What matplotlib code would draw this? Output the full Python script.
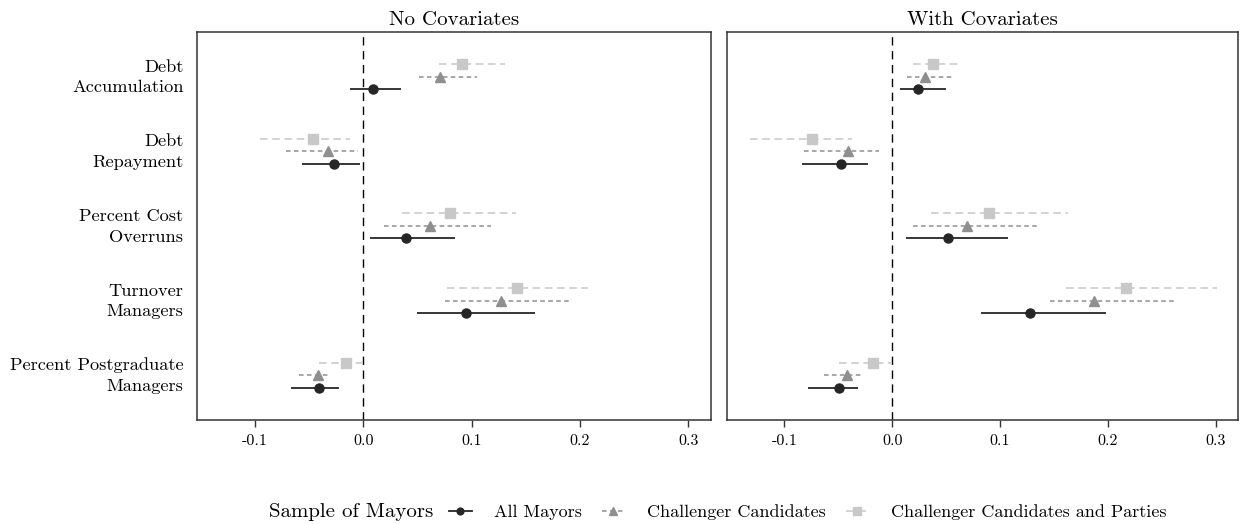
import matplotlib
matplotlib.use("Agg")
import matplotlib.pyplot as plt
import matplotlib.transforms as mtransforms
from matplotlib.lines import Line2D
import numpy as np

plt.rcParams["font.family"] = ["cmr10", "DejaVu Serif"]
plt.rcParams["axes.unicode_minus"] = False

outcomes = ["Debt\nAccumulation", "Debt\nRepayment", "Percent Cost\nOverruns",
            "Turnover\nManagers", "Percent Postgraduate\nManagers"]
panels = ["No Covariates", "With Covariates"]
samples = ["All Mayors", "Challenger Candidates", "Challenger Candidates and Parties"]

# Point estimates and 95% confidence bounds, one row per outcome
# --- No Covariates ---
nc_all_est = [0.0087, -0.0273, 0.0391, 0.0948, -0.0406]
nc_all_lo = [-0.012, -0.0569, 0.0065, 0.0498, -0.0667]
nc_all_hi = [0.035, -0.0034, 0.0843, 0.1582, -0.0224]

nc_cc_est = [0.0708, -0.0329, 0.0616, 0.1271, -0.0415]
nc_cc_lo = [0.0514, -0.0714, 0.0194, 0.0754, -0.0594]
nc_cc_hi = [0.1046, -0.0052, 0.1179, 0.1914, -0.0307]

nc_ccp_est = [0.0908, -0.0467, 0.0800, 0.1416, -0.0160]
nc_ccp_lo = [0.0702, -0.0954, 0.0354, 0.0776, -0.0406]
nc_ccp_hi = [0.1310, -0.0123, 0.1407, 0.2077, -0.0006]

# --- With Covariates ---
wc_all_est = [0.0241, -0.0479, 0.0520, 0.1274, -0.0497]
wc_all_lo = [0.0071, -0.0835, 0.0124, 0.0826, -0.0785]
wc_all_hi = [0.0495, -0.0229, 0.1070, 0.1982, -0.0321]

wc_cc_est = [0.0300, -0.0408, 0.0696, 0.1874, -0.0423]
wc_cc_lo = [0.0134, -0.0819, 0.0195, 0.1463, -0.0634]
wc_cc_hi = [0.0551, -0.0123, 0.1364, 0.2613, -0.0275]

wc_ccp_est = [0.0375, -0.0748, 0.0894, 0.2168, -0.0179]
wc_ccp_lo = [0.0195, -0.1320, 0.0356, 0.1611, -0.0492]
wc_ccp_hi = [0.0634, -0.0371, 0.1633, 0.3010, -0.0015]

x_ticks = [-0.1, 0.0, 0.1, 0.2, 0.3]
x_tick_labels = ["-0.1", "0.0", "0.1", "0.2", "0.3"]

panel_data = {
    "No Covariates": [(nc_all_est, nc_all_lo, nc_all_hi),
                      (nc_cc_est, nc_cc_lo, nc_cc_hi),
                      (nc_ccp_est, nc_ccp_lo, nc_ccp_hi)],
    "With Covariates": [(wc_all_est, wc_all_lo, wc_all_hi),
                        (wc_cc_est, wc_cc_lo, wc_cc_hi),
                        (wc_ccp_est, wc_ccp_lo, wc_ccp_hi)],
}

colors = ["#262626", "#8f8f8f", "#c8c8c8"]
markers = ["o", "^", "s"]
msizes = [6.5, 7.0, 7.0]
dash_styles = ["-", (0, (3.0, 2.2)), (0, (5.0, 3.0))]
line_widths = [1.3, 1.1, 1.1]
dodge = [-1 / 6, 0.0, 1 / 6]   # all-mayors lowest, parties highest

fig = plt.figure(figsize=(12.46, 5.24), dpi=100)
axes = [fig.add_axes([0.1584, 0.1985, 0.4123, 0.741]),
        fig.add_axes([0.5837, 0.1985, 0.4101, 0.741])]

n = len(outcomes)
ypos = np.arange(n, 0, -1, dtype=float)  # first outcome at the top

for ax, panel in zip(axes, panels):
    ax.axvline(0, color="black", lw=1.0, ls=(0, (6, 4)), zorder=1)
    for k, (est, lo, hi) in enumerate(panel_data[panel]):
        y = ypos + dodge[k]
        ax.hlines(y, lo, hi, colors=colors[k], linestyles=[dash_styles[k]],
                  lw=line_widths[k], zorder=2)
        ax.plot(est, y, ls="none", marker=markers[k], ms=msizes[k],
                color=colors[k], mec=colors[k], zorder=3)
    ax.set_xlim(-0.153, 0.321)
    ax.set_ylim(0.4, n + 0.6)
    ax.set_xticks(x_ticks)
    ax.set_xticklabels(x_tick_labels, fontsize=11.5)
    ax.tick_params(axis="x", length=5, width=1, color="#333333", pad=5)
    ax.set_yticks(ypos)
    ax.tick_params(axis="y", length=0, pad=10)
    for s in ax.spines.values():
        s.set_color("#333333")
        s.set_linewidth(1.1)
    ax.set_title(panel, fontsize=15, pad=5)

axes[0].set_yticklabels(outcomes, fontsize=13.2, ha="right", multialignment="right",
                        linespacing=1.45)
# nudge the two-line outcome labels up so they sit centred on their rows
lift = mtransforms.ScaledTranslation(0, 3.5 / 100, fig.dpi_scale_trans)
for lab in axes[0].get_yticklabels():
    lab.set_transform(lab.get_transform() + lift)
axes[1].set_yticklabels([])

handles = [Line2D([0], [0], color=colors[k], ls=dash_styles[k], lw=line_widths[k],
                  marker=markers[k], ms=msizes[k] * 0.75, mec=colors[k])
           for k in range(3)]
fig.text(269 / 1246, 0.023, "Sample of Mayors", fontsize=15, ha="left", va="center")
fig.legend(handles, samples, loc="center left", bbox_to_anchor=(449 / 1246, 0.023),
           ncol=3, frameon=False, fontsize=13, handlelength=1.25, handletextpad=1.25,
           columnspacing=1.1, borderaxespad=0, borderpad=0)

fig.savefig("out.png", dpi=100)
